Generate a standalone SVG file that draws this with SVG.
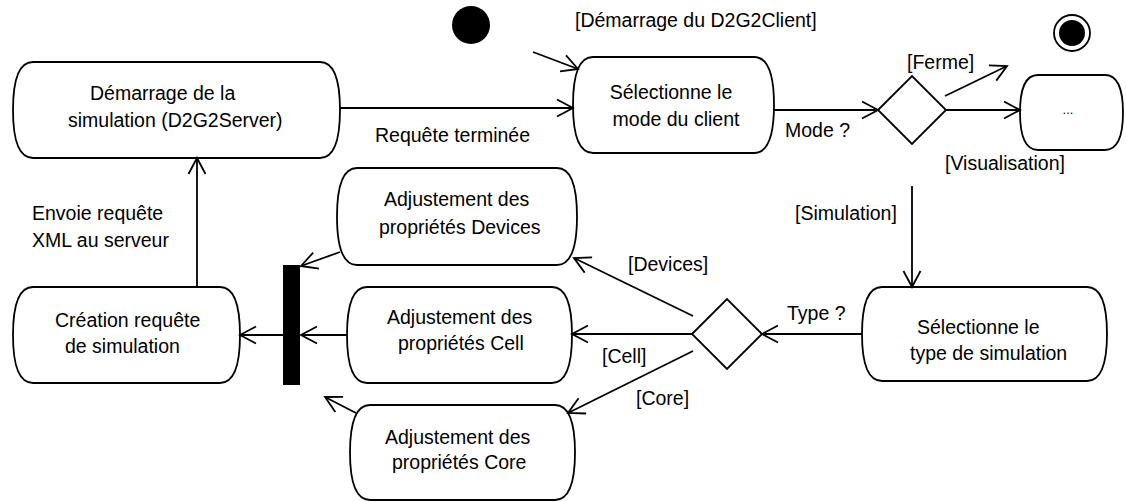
<svg xmlns="http://www.w3.org/2000/svg" width="1126" height="502" viewBox="0 0 1126 502">
  <style>
    .box { fill: #ffffff; stroke: #000000; stroke-width: 1.8; }
    .dec { fill: #ffffff; stroke: #000000; stroke-width: 1.8; }
    .edge { fill: none; stroke: #000000; stroke-width: 1.8; marker-end: url(#open); }
    text { font-family: "Liberation Sans", Arial, sans-serif; font-size: 19.5px; fill: #000000; }
    .mid { text-anchor: middle; }
  </style>
  <defs>
    <marker id="open" markerUnits="userSpaceOnUse" markerWidth="22" markerHeight="22" viewBox="-19 -11 22 22" refX="0" refY="0" orient="auto" overflow="visible">
      <path d="M-16,-8.5 L0,0 L-16,8.5" fill="none" stroke="#000000" stroke-width="1.8"/>
    </marker>
  </defs>
  <rect width="1126" height="502" fill="#ffffff"/>

  <!-- start / end states -->
  <g id="initial">
    <circle cx="471" cy="25" r="19" fill="#000000"/>
  </g>
  <g id="final">
    <circle cx="1072" cy="33" r="18" fill="#ffffff" stroke="#000000" stroke-width="1.8"/>
    <circle cx="1072" cy="33" r="13" fill="#000000"/>
  </g>

  <!-- actions -->
  <g id="start-server">
    <path class="box" d="M33,62 H320 C334,62 340,79 340,110 C340,141 334,158 320,158 H33 C19,158 13,141 13,110 C13,79 19,62 33,62 Z"/>
    <text x="90" y="100">Démarrage de la</text>
    <text x="68" y="127">simulation (D2G2Server)</text>
  </g>
  <g id="select-mode">
    <path class="box" d="M593,57 H754 C768,57 774,74 774,105 C774,136 768,153 754,153 H593 C579,153 573,136 573,105 C573,74 579,57 593,57 Z"/>
    <text class="mid" x="671" y="99">Sélectionne le</text>
    <text class="mid" x="676" y="126">mode du client</text>
  </g>
  <g id="other-mode">
    <path class="box" d="M1038,75 H1105 C1118,75 1123,88.5 1123,112.5 C1123,136.5 1118,150 1105,150 H1038 C1025,150 1020,136.5 1020,112.5 C1020,88.5 1025,75 1038,75 Z"/>
    <text class="mid" x="1068" y="114" style="font-size:13px">...</text>
  </g>
  <g id="devices">
    <path class="box" d="M357,168 H557 C571,168 577,185.5 577,216.5 C577,247.5 571,265 557,265 H357 C343,265 337,247.5 337,216.5 C337,185.5 343,168 357,168 Z"/>
    <text x="384" y="206">Adjustement des</text>
    <text x="379" y="234">propriétés Devices</text>
  </g>
  <g id="cell">
    <path class="box" d="M367,287 H552 C566,287 572,304 572,335 C572,366 566,383 552,383 H367 C353,383 347,366 347,335 C347,304 353,287 367,287 Z"/>
    <text x="387" y="324">Adjustement des</text>
    <text x="398" y="350">propriétés Cell</text>
  </g>
  <g id="core">
    <path class="box" d="M370,405 H555 C569,405 575,422 575,452.5 C575,483 569,500 555,500 H370 C356,500 350,483 350,452.5 C350,422 356,405 370,405 Z"/>
    <text x="385" y="444">Adjustement des</text>
    <text x="392" y="469">propriétés Core</text>
  </g>
  <g id="create-request">
    <path class="box" d="M33,287 H220 C234,287 240,304 240,335 C240,366 234,383 220,383 H33 C19,383 13,366 13,335 C13,304 19,287 33,287 Z"/>
    <text x="55" y="327">Création requête</text>
    <text x="65" y="353">de simulation</text>
  </g>
  <g id="select-type">
    <path class="box" d="M882,287 H1087 C1101,287 1107,304 1107,334 C1107,364 1101,381 1087,381 H882 C868,381 862,364 862,334 C862,304 868,287 882,287 Z"/>
    <text x="917" y="334">Sélectionne le</text>
    <text x="910" y="360">type de simulation</text>
  </g>

  <!-- decisions and join bar -->
  <g id="mode-decision">
    <polygon class="dec" points="878,110 912,76 946,110 912,144"/>
  </g>
  <g id="type-decision">
    <polygon class="dec" points="692,334 727,299 762,334 727,369"/>
  </g>
  <g id="join">
    <rect x="283" y="265" width="17" height="120" fill="#000000"/>
  </g>

  <!-- transitions -->
  <g id="connectors">
    <path class="edge" d="M340,108 L573,108"/>
    <path class="edge" d="M533,52 L578,69"/>
    <path class="edge" d="M774,110 L878,110"/>
    <path class="edge" d="M945,96 L1007,66"/>
    <path class="edge" d="M946,110 L1020,110"/>
    <path class="edge" d="M912,186 L912,287"/>
    <path class="edge" d="M862,334 L762,334"/>
    <path class="edge" d="M693,316 L574,258"/>
    <path class="edge" d="M692,334 L572,334"/>
    <path class="edge" d="M693,351 L568,413"/>
    <path class="edge" d="M340,252 L301,266"/>
    <path class="edge" d="M347,335 L301,335"/>
    <path class="edge" d="M356,413 L325,397"/>
    <path class="edge" d="M283,335 L240,335"/>
    <path class="edge" d="M197,287 L197,158"/>

    <text x="375" y="142">Requête terminée</text>
    <text x="575" y="27">[Démarrage du D2G2Client]</text>
    <text x="785" y="137">Mode ?</text>
    <text x="907" y="69">[Ferme]</text>
    <text x="945" y="170">[Visualisation]</text>
    <text x="795" y="220">[Simulation]</text>
    <text x="787" y="320">Type ?</text>
    <text x="628" y="271">[Devices]</text>
    <text x="602" y="363">[Cell]</text>
    <text x="636" y="405">[Core]</text>
    <text x="32" y="220">Envoie requête</text>
    <text x="32" y="247">XML au serveur</text>
  </g>
</svg>
